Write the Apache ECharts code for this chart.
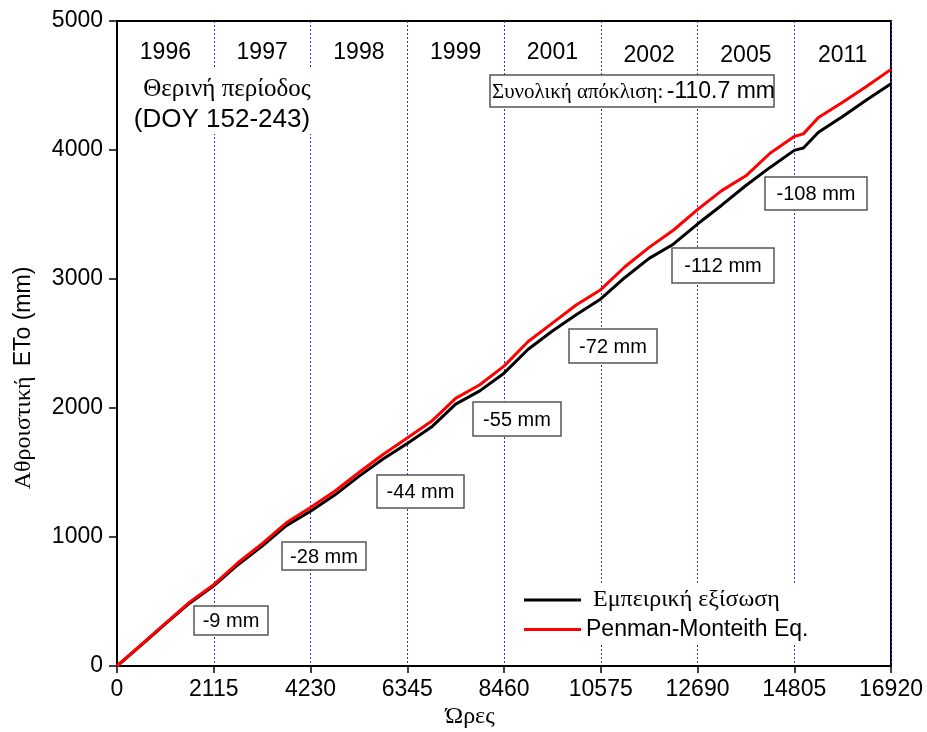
<!DOCTYPE html>
<html>
<head>
<meta charset="utf-8">
<script src="https://cdn.jsdelivr.net/npm/echarts@6/dist/echarts.min.js"></script>
<style>
  html, body { margin: 0; padding: 0; background: #fff; }
  #chart { width: 927px; height: 732px; }
</style>
</head>
<body>
<div id="chart"></div>
<script>
// Cumulative summer ETo (mm) against hours of record, one season per 2115 h
const hours = [0, 529, 1058, 1586, 2115, 2644, 3173, 3701, 4230, 4759, 5288, 5816, 6345,
  6874, 7403, 7931, 8460, 8989, 9518, 10046, 10575, 11104, 11633, 12161, 12690,
  13219, 13748, 14276, 14805, 15004, 15334, 15863, 16391, 16920];
const empirical = [0, 162, 326, 487, 621, 785, 930, 1088, 1200, 1325, 1470, 1605, 1724,
  1852, 2030, 2133, 2270, 2455, 2597, 2725, 2845, 3012, 3160, 3270, 3426,
  3572, 3725, 3865, 3997, 4015, 4137, 4260, 4390, 4514];
const penmanMonteith = [0, 165, 331, 495, 630, 800, 948, 1110, 1228, 1355, 1500, 1640, 1768,
  1897, 2075, 2180, 2325, 2515, 2658, 2800, 2917, 3095, 3245, 3378, 3538,
  3685, 3800, 3975, 4105, 4125, 4252, 4370, 4495, 4625];

const seasonLength = 2115;
const seasonYears = ['1996', '1997', '1998', '1999', '2001', '2002', '2005', '2011'];
const seasonDeviation = [-9, -28, -44, -55, -72, -112, -108];
const totalDeviation = -110.7;

const seriesNames = ['Εμπειρική εξίσωση', 'Penman-Monteith Eq.'];

const SANS = '"Liberation Sans", Arial, sans-serif';
const SERIF = '"Liberation Serif", "Times New Roman", serif';

const chart = echarts.init(document.getElementById('chart'), null, { renderer: 'canvas' });

chart.setOption({
  animation: false,
  backgroundColor: '#fff',
  grid: {
    left: 117, right: 36, top: 21, bottom: 66,
    show: true, borderColor: '#000', borderWidth: 2, backgroundColor: 'transparent'
  },
  xAxis: {
    type: 'value', min: 0, max: seasonLength * 8, interval: seasonLength,
    axisLine: { show: true, lineStyle: { color: '#000', width: 2 } },
    axisTick: { show: true, length: 7, lineStyle: { color: '#000', width: 1.5 } },
    axisLabel: { color: '#000', fontFamily: SANS, fontSize: 23, margin: 12, formatter: v => String(v) },
    splitLine: { show: true, lineStyle: { color: '#2b2bff', width: 1, type: [2, 2] } }
  },
  yAxis: {
    type: 'value', min: 0, max: 5000, interval: 1000,
    axisLine: { show: true, lineStyle: { color: '#000', width: 2 } },
    axisTick: { show: true, length: 8, lineStyle: { color: '#000', width: 1.5 } },
    axisLabel: { color: '#000', fontFamily: SANS, fontSize: 23, margin: 14, formatter: v => String(v) },
    splitLine: { show: false }
  },
  legend: {
    data: seriesNames,
    orient: 'vertical',
    left: 518, top: 585,
    icon: 'rect',
    itemWidth: 57, itemHeight: 3, itemGap: 6,
    padding: [3, 6],
    backgroundColor: '#fff',
    formatter: function (name) {
      return name === seriesNames[0] ? '{serif|' + name + '}' : '{sans|' + name + '}';
    },
    textStyle: {
      color: '#000',
      rich: {
        serif: { fontFamily: SERIF, fontSize: 24, color: '#000', padding: [0, 0, 0, 7] },
        sans: { fontFamily: SANS, fontSize: 23, color: '#000' }
      }
    }
  },
  series: [
    {
      name: seriesNames[0], type: 'line', symbol: 'none', smooth: false,
      lineStyle: { color: '#000', width: 3 }, itemStyle: { color: '#000' },
      data: hours.map((h, i) => [h, empirical[i]]), z: 3
    },
    {
      name: seriesNames[1], type: 'line', symbol: 'none', smooth: false,
      lineStyle: { color: '#ff0000', width: 3 }, itemStyle: { color: '#ff0000' },
      data: hours.map((h, i) => [h, penmanMonteith[i]]), z: 4
    }
  ]
});

// Annotations: season years, period note, per-season and total deviation boxes
const graphics = [];

seasonYears.forEach((year, i) => {
  const px = chart.convertToPixel({ xAxisIndex: 0 }, seasonLength * (i + 0.5));
  graphics.push({
    type: 'text', z: 10, x: px, y: i < 5 ? 53 : 56,
    style: { text: year, font: '23px ' + SANS, fill: '#000', align: 'center', verticalAlign: 'middle' }
  });
});

graphics.push({
  type: 'rect', z: 9, shape: { x: 125, y: 68, width: 193, height: 66 },
  style: { fill: '#fff', stroke: null }
});
graphics.push({
  type: 'text', z: 10, x: 227, y: 89,
  style: { text: 'Θερινή περίοδος', font: '25px ' + SERIF, fill: '#000', align: 'center', verticalAlign: 'middle' }
});
graphics.push({
  type: 'text', z: 10, x: 222, y: 120,
  style: { text: '(DOY 152-243)', font: '26px ' + SANS, fill: '#000', align: 'center', verticalAlign: 'middle' }
});

// total deviation box
graphics.push({
  type: 'rect', z: 9, shape: { x: 490, y: 75, width: 284, height: 32 },
  style: { fill: '#fff', stroke: '#555', lineWidth: 1.5 }
});
graphics.push({
  type: 'text', z: 10, x: 492, y: 92,
  style: {
    text: '{a|Συνολική απόκλιση:} {b|' + totalDeviation.toFixed(1) + ' mm}',
    rich: {
      a: { fontFamily: SERIF, fontSize: 21, fill: '#000' },
      b: { fontFamily: SANS, fontSize: 23, fill: '#000' }
    },
    align: 'left', verticalAlign: 'middle'
  }
});

// per-season deviation boxes [x, y, width, height]
const deviationBoxes = [
  [194, 606, 74, 29], [282, 542, 84, 28], [377, 475, 87, 33], [473, 402, 88, 34],
  [569, 329, 88, 34], [672, 248, 102, 35], [765, 177, 102, 33]
];
seasonDeviation.forEach((d, i) => {
  const b = deviationBoxes[i];
  graphics.push({
    type: 'rect', z: 9, shape: { x: b[0], y: b[1], width: b[2], height: b[3] },
    style: { fill: '#fff', stroke: '#555', lineWidth: 1.5 }
  });
  graphics.push({
    type: 'text', z: 10, x: b[0] + b[2] / 2, y: b[1] + b[3] / 2 + 1,
    style: { text: d + ' mm', font: '20px ' + SANS, fill: '#000', align: 'center', verticalAlign: 'middle' }
  });
});

// axis titles
graphics.push({
  type: 'text', z: 10, x: 470, y: 717,
  style: { text: 'Ώρες', font: '24px ' + SERIF, fill: '#000', align: 'center', verticalAlign: 'middle' }
});
graphics.push({
  type: 'text', z: 10, x: 24, y: 378, rotation: Math.PI / 2,
  style: {
    text: '{a|Αθροιστική}   {b|ETo (mm)}',
    rich: {
      a: { fontFamily: SERIF, fontSize: 24, fill: '#000' },
      b: { fontFamily: SANS, fontSize: 23, fill: '#000' }
    },
    align: 'center', verticalAlign: 'middle'
  }
});

chart.setOption({ graphic: { elements: graphics } });
</script>
</body>
</html>
